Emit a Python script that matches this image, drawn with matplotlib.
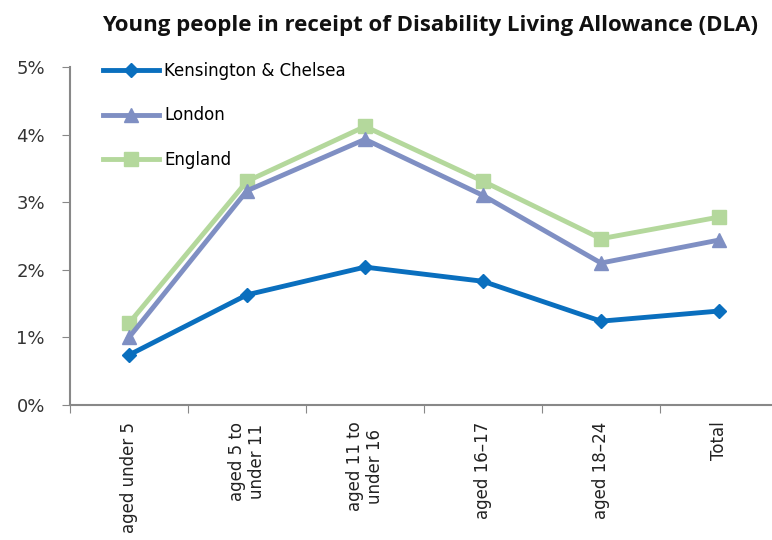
import matplotlib
matplotlib.use("Agg")
import matplotlib.pyplot as plt
from matplotlib.ticker import PercentFormatter

categories = ["aged under 5", "aged 5 to\nunder 11", "aged 11 to\nunder 16",
              "aged 16\u201317", "aged 18\u201324", "Total"]
kc = [0.74, 1.63, 2.04, 1.83, 1.24, 1.39]
london = [1.00, 3.17, 3.93, 3.10, 2.10, 2.44]
england = [1.21, 3.31, 4.12, 3.31, 2.46, 2.78]
yticks = [0, 1, 2, 3, 4, 5]

W, H = 772, 540
fig = plt.figure(figsize=(W / 100, H / 100), dpi=100)
left, right, bottom, top = 70, 778, 405, 67
ax = fig.add_axes([left / W, 1 - bottom / H, (right - left) / W, (bottom - top) / H])

x = list(range(len(categories)))
ax.plot(x, england, color="#B4D89C", lw=3.5, marker="s", ms=10, label="England", zorder=2)
ax.plot(x, london, color="#7F8FC3", lw=3.5, marker="^", ms=10, label="London", zorder=3)
ax.plot(x, kc, color="#0A6FBE", lw=3.5, marker="D", ms=7, label="Kensington & Chelsea", zorder=4)

ax.set_xlim(-0.5, len(categories) - 0.5)
ax.set_ylim(0, 5)
ax.set_yticks(yticks)
ax.yaxis.set_major_formatter(PercentFormatter(decimals=0))
ax.set_xticks([i + 0.5 for i in range(-1, len(categories))], minor=False)
ax.set_xticklabels([])
ax.set_xticks(x, minor=True)
ax.set_xticklabels(categories, minor=True, rotation=90, va="top", ha="center",
                   fontsize=12, color="#222222", family="DejaVu Sans")
ax.tick_params(axis="x", which="minor", length=0, pad=12)
ax.tick_params(axis="x", which="major", length=6, color="#888888", direction="out")
ax.tick_params(axis="y", length=6, color="#888888", direction="out", pad=12,
               labelsize=13, labelcolor="#333333")

for s in ["top", "right"]:
    ax.spines[s].set_visible(False)
for s in ["left", "bottom"]:
    ax.spines[s].set_color("#888888")
    ax.spines[s].set_linewidth(1.5)

handles, labels = ax.get_legend_handles_labels()
order = [2, 1, 0]
leg = ax.legend([handles[i] for i in order], [labels[i] for i in order],
                loc="upper left", bbox_to_anchor=(0.025, 1.06), frameon=False,
                labelspacing=1.6, handlelength=3.4, handletextpad=0.3,
                prop={"family": "DejaVu Sans", "size": 12})

fig.text(430 / W, 1 - 25 / H, "Young people in receipt of Disability Living Allowance (DLA)",
         ha="center", va="center", fontsize=16, fontweight="bold",
         family="Open Sans", color="#111111")

fig.savefig("out.png", dpi=100)
